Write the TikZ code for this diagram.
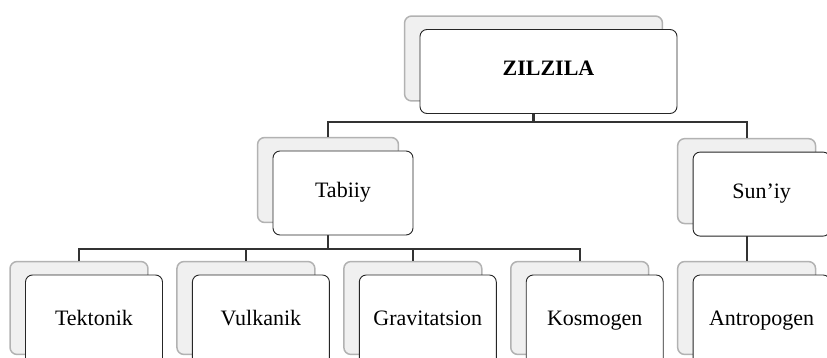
\documentclass[tikz,border=0pt]{standalone}
\usepackage{fontspec}
\setmainfont{Liberation Serif}
\usetikzlibrary{positioning,fit,backgrounds,calc}

\begin{document}
\begin{tikzpicture}[
  x=1pt, y=-1pt, font=\fontsize{22}{26}\selectfont,
  front/.style={rectangle,rounded corners=7pt,draw=black!85,line width=0.9pt,fill=white,minimum width=137pt,minimum height=84pt,inner sep=0pt,text height=14pt,text depth=5pt},
  back/.style={rectangle,rounded corners=7pt,draw=black!30,line width=1.5pt,fill=black!6,inner sep=0pt},
  link/.style={draw=black!80,line width=2.2pt},
  low/.style={minimum height=92pt},
  node distance=29pt,
]
  \useasboundingbox (0,0) rectangle (827,358);
  % front boxes
  \node[front,minimum width=257pt] (zil) at (548.5,71.5) {\textbf{ZILZILA}};
  \node[front,minimum width=140pt] (tab) at (343,193) {Tabiiy};
  \node[front,low] (tek) at (94,321) {Tektonik};
  \node[front,low,right=of tek] (vul) {Vulkanik};
  \node[front,low,right=of vul] (gra) {Gravitatsion};
  \node[front,low,right=of gra] (kos) {Kosmogen};
  \node[front,low,right=of kos] (ant) {Antropogen};
  \node[front,above=38pt of ant] (sun) {Sun'iy};
  % shadow boxes and links behind
  \begin{scope}[on background layer]
    \foreach \n in {zil,tab,sun,tek,vul,gra,kos,ant}
      \node[back,fit=(\n),shift={(-15,-13)}] (b\n) {};
    \draw[link] (bzil.south) -- ++(0,20) coordinate (hub) -| (btab.north)
      (hub) -| (bsun.north);
    \draw[link] (btab.south) -- ++(0,26) coordinate (hub2) -| (btek.north)
      (hub2) -| (bvul.north) (hub2) -| (bgra.north) (hub2) -| (bkos.north);
    \draw[link] (bsun.south) -- (bant.north);
  \end{scope}
\end{tikzpicture}
\end{document}
